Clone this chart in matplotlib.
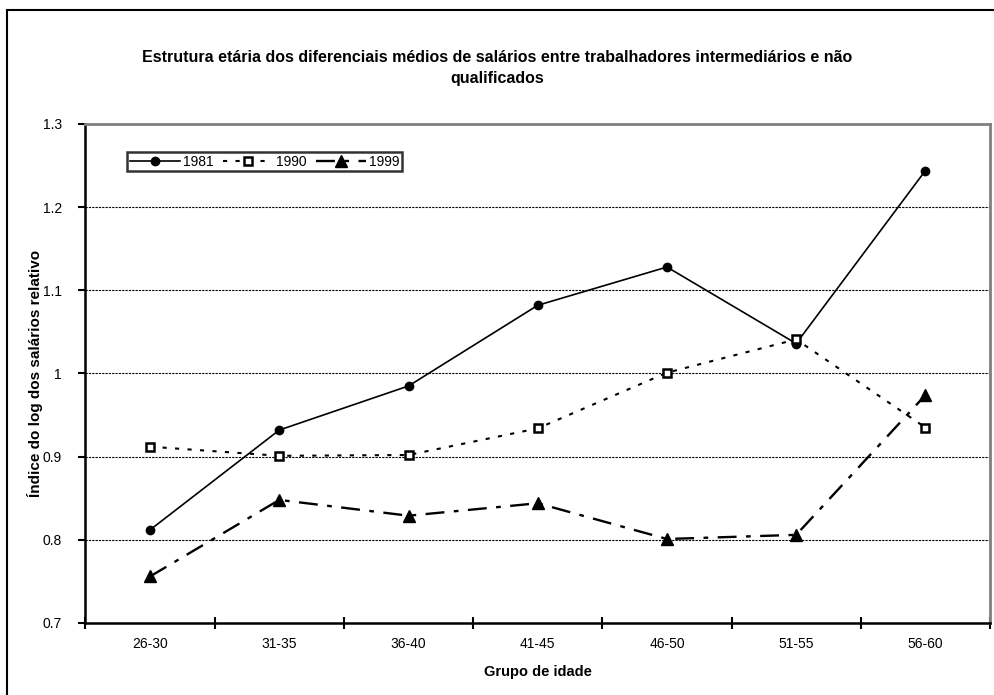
import numpy as np
import matplotlib.pyplot as plt
from matplotlib.patches import Rectangle

plt.rcParams['font.family'] = ['Liberation Sans', 'DejaVu Sans']

grupos = ['26-30', '31-35', '36-40', '41-45', '46-50', '51-55', '56-60']
s1981 = [0.812, 0.932, 0.985, 1.082, 1.128, 1.036, 1.244]
s1990 = [0.912, 0.901, 0.902, 0.934, 1.001, 1.041, 0.935]
s1999 = [0.756, 0.848, 0.829, 0.844, 0.801, 0.806, 0.974]
yticks = [0.7, 0.8, 0.9, 1.0, 1.1, 1.2, 1.3]
ytick_labels = ['0.7', '0.8', '0.9', '1', '1.1', '1.2', '1.3']

fig = plt.figure(figsize=(9.95, 6.95), dpi=100)
# moldura externa do gráfico
fig.patches.append(Rectangle((0.007, -0.01), 1.0, 0.996, transform=fig.transFigure,
                             fill=False, edgecolor='black', linewidth=1.5))

ax = fig.add_axes([0.0859, 0.1036, 0.9091, 0.718])
x = np.arange(len(grupos))

ax.plot(x, s1981, color='black', linewidth=1.2, marker='o', markersize=6,
        label='1981')
ax.plot(x, s1990, color='black', linewidth=1.5, linestyle=(0, (2, 4)),
        marker='s', markersize=6, markerfacecolor='white',
        markeredgecolor='black', markeredgewidth=1.8, label='1990')
ax.plot(x, s1999, color='black', linewidth=1.7, linestyle=(0, (8, 4, 2, 4)),
        marker='^', markersize=8, label='1999')

ax.set_xlim(-0.5, len(grupos) - 0.5)
ax.set_ylim(0.7, 1.3)
ax.set_yticks(yticks)
ax.set_yticklabels(ytick_labels, fontsize=10)
ax.set_xticks(x)
ax.set_xticklabels(grupos, fontsize=10)
ax.tick_params(axis='x', which='major', length=0, pad=10)
ax.set_xticks(np.arange(-0.5, len(grupos), 1.0), minor=True)
ax.tick_params(axis='x', which='minor', direction='inout', length=9, width=1.5)
ax.tick_params(axis='y', direction='out', length=5, width=1.5, pad=12)

for v in yticks[1:-1]:
    ax.axhline(v, color='black', linewidth=0.8, linestyle=(0, (2, 1)), zorder=0)

ax.spines['left'].set_linewidth(1.8)
ax.spines['bottom'].set_linewidth(1.8)
ax.spines['top'].set_color('#808080')
ax.spines['top'].set_linewidth(2)
ax.spines['right'].set_color('#808080')
ax.spines['right'].set_linewidth(2)

ax.set_xlabel('Grupo de idade', fontsize=10.5, fontweight='bold')
ax.xaxis.set_label_coords(0.5, -0.085)
ax.set_ylabel('Índice do log dos salários relativo', fontsize=11,
              fontweight='bold')
ax.yaxis.set_label_coords(-0.047, 0.5)

fig.text(0.5, 0.902, 'Estrutura etária dos diferenciais médios de salários entre '
         'trabalhadores intermediários e não\nqualificados', ha='center',
         va='center', fontsize=11.5, fontweight='bold', linespacing=1.45)

leg = ax.legend(loc='upper left', bbox_to_anchor=(0.046, 0.944), ncol=3,
                fontsize=10, frameon=True, fancybox=False, handlelength=3.6,
                handletextpad=0.2, columnspacing=0.7, borderpad=0.2,
                borderaxespad=0)
leg.get_frame().set_edgecolor('black')
leg.get_frame().set_linewidth(1.8)

fig.savefig('out.png', dpi=100)
